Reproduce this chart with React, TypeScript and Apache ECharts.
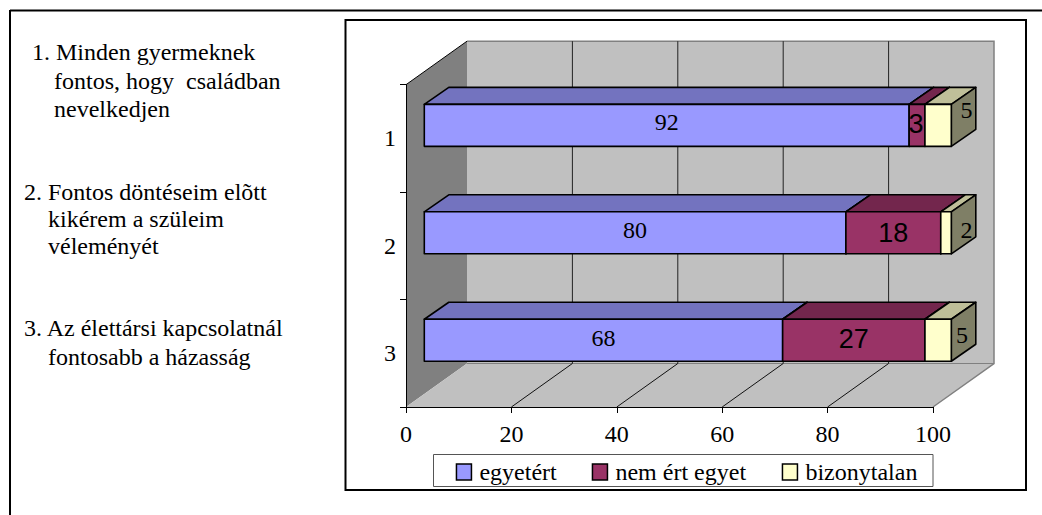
import React, { useEffect, useRef } from "react";
import * as echarts from "echarts";

const categories = ["1", "2", "3"];
const xTicks = [0, 20, 40, 60, 80, 100];
const seriesNames = ["egyetért", "nem ért egyet", "bizonytalan"];
const agree = [92, 80, 68];
const disagree = [3, 18, 27];
const unsure = [5, 2, 5];

const noteLines = [
  "1. Minden gyermeknek",
  "fontos, hogy  családban",
  "nevelkedjen",
  "2. Fontos döntéseim elõtt",
  "kikérem a szüleim",
  "véleményét",
  "3. Az élettársi kapcsolatnál",
  "fontosabb a házasság",
];
const notePos = [
  [32, 52], [54, 81], [54, 109],
  [24, 192], [48, 219], [48, 246],
  [24, 328], [48, 357],
];

const SERIF = "'Liberation Serif', 'Times New Roman', serif";
const SANS = "'Liberation Sans', Arial, sans-serif";

const WALL_DX = 61;
const WALL_DY = -43.5;
const BAR_NEAR = 0.3;
const BAR_DX = 24.5;
const BAR_DY = -17;
const BAR_H = 42;

const faceColors = [
  { front: "#9999FF", top: "#7373BF", side: "#7373BF" },
  { front: "#993366", top: "#73264D", side: "#73264D" },
  { front: "#FFFFCC", top: "#BFBF99", side: "#7F7F66" },
];
const labelStyles = [
  { font: `24px ${SERIF}`, off: [[0, -3.5], [0, -2.5], [0, -2.5]] },
  { font: `27px ${SANS}`, off: [[-1, -1], [0, 0], [0, -1.5]] },
  { font: `24px ${SERIF}`, off: [[3, -6.5], [3, 6], [-1.5, 3]] },
];

const seriesValues = [agree, disagree, unsure];

function rowsFor(idx: number) {
  return categories.map((_, c) => {
    let start = 0;
    for (let i = 0; i < idx; i++) start += seriesValues[i][c];
    return [start, start + seriesValues[idx][c], c, seriesValues[idx][c]];
  });
}

function barRender(idx: number) {
  return (_params: any, api: any) => {
    const c = api.value(2);
    const ox = WALL_DX * BAR_NEAR;
    const oy = WALL_DY * BAR_NEAR;
    const a = api.coord([api.value(0), c]);
    const b = api.coord([api.value(1), c]);
    const x0 = a[0] + ox;
    const x1 = b[0] + ox;
    const yc = a[1] + oy;
    const yT = yc - BAR_H / 2;
    const yB = yc + BAR_H / 2;
    const line = { stroke: "#000", lineWidth: 1.6, lineJoin: "round" };
    const col = faceColors[idx];
    const children: any[] = [
      {
        type: "polygon",
        shape: { points: [[x0, yT], [x0 + BAR_DX, yT + BAR_DY], [x1 + BAR_DX, yT + BAR_DY], [x1, yT]] },
        style: { fill: col.top, ...line },
      },
      {
        type: "polygon",
        shape: { points: [[x1, yT], [x1 + BAR_DX, yT + BAR_DY], [x1 + BAR_DX, yB + BAR_DY], [x1, yB]] },
        style: { fill: col.side, ...line },
      },
      {
        type: "rect",
        shape: { x: x0, y: yT, width: x1 - x0, height: BAR_H },
        style: { fill: col.front, ...line },
      },
    ];
    const ls = labelStyles[idx];
    const off = ls.off[c];
    const onSide = idx === 2;
    const lx = (onSide ? x1 + BAR_DX / 2 : (x0 + x1) / 2) + off[0];
    const ly = (onSide ? yc + BAR_DY / 2 : yc) + off[1];
    children.push({
      type: "text",
      x: lx,
      y: ly,
      style: { text: String(api.value(3)), font: ls.font, fill: "#000", align: "center", verticalAlign: "middle" },
    });
    return { type: "group", children };
  };
}

function wallRender(params: any, api: any) {
  const cs = params.coordSys;
  const L = cs.x;
  const R = cs.x + cs.width;
  const T = cs.y;
  const B = cs.y + cs.height;
  const dx = WALL_DX;
  const dy = WALL_DY;
  const children: any[] = [
    {
      type: "rect",
      shape: { x: L + dx, y: T + dy, width: R - L, height: B - T },
      style: { fill: "#C0C0C0", stroke: "none" },
    },
    {
      type: "polygon",
      shape: { points: [[L, T], [L + dx, T + dy], [L + dx, B + dy], [L, B]] },
      style: { fill: "#808080", stroke: "none" },
    },
    {
      type: "polygon",
      shape: { points: [[L, B], [R, B], [R + dx, B + dy], [L + dx, B + dy]] },
      style: { fill: "#C0C0C0", stroke: "none" },
    },
    {
      type: "polyline",
      shape: { points: [[L + dx, T + dy], [R + dx, T + dy], [R + dx, B + dy], [R, B]] },
      style: { fill: "none", stroke: "#808080", lineWidth: 1.5 },
    },
    {
      type: "line",
      shape: { x1: L, y1: T, x2: L + dx, y2: T + dy },
      style: { stroke: "#000", lineWidth: 1 },
    },
    {
      type: "line",
      shape: { x1: L + dx, y1: B + dy, x2: R + dx, y2: B + dy },
      style: { stroke: "#808080", lineWidth: 1 },
    },
  ];
  xTicks.slice(1, -1).forEach((t) => {
    const x = api.coord([t, 0])[0];
    children.push({
      type: "line",
      shape: { x1: x + dx, y1: T + dy, x2: x + dx, y2: B + dy },
      style: { stroke: "#222", lineWidth: 1 },
    });
    children.push({
      type: "line",
      shape: { x1: x, y1: B, x2: x + dx, y2: B + dy },
      style: { stroke: "#111", lineWidth: 1 },
    });
  });
  return { type: "group", children };
}

function legendFor(idx: number, left: number) {
  return {
    show: true,
    data: [seriesNames[idx]],
    left,
    top: 460,
    padding: 0,
    z: 6,
    selectedMode: false,
    itemWidth: 15,
    itemHeight: 16,
    icon: "rect",
    itemStyle: { borderColor: "#000", borderWidth: 1.5 },
    textStyle: { fontFamily: SERIF, fontSize: 24, color: "#000", padding: [0, 0, 0, 3] },
  };
}

export default function App() {
  const ref = useRef<HTMLDivElement>(null);
  useEffect(() => {
    if (!ref.current) return;
    const chart = echarts.init(ref.current, undefined, { renderer: "svg" });
    chart.setOption({
      animation: false,
      backgroundColor: "#fff",
      grid: { left: 406, top: 84.7, width: 527, height: 322.3, containLabel: false },
      xAxis: {
        type: "value",
        min: 0,
        max: 100,
        interval: 20,
        z: 3,
        splitLine: { show: false },
        axisLine: { show: true, onZero: false, lineStyle: { color: "#000", width: 1 } },
        axisTick: { show: true, length: 6, lineStyle: { color: "#000" } },
        axisLabel: { color: "#000", fontFamily: SERIF, fontSize: 24, margin: 15, showMinLabel: true, showMaxLabel: true },
      },
      yAxis: {
        type: "category",
        data: categories,
        inverse: true,
        z: 3,
        axisLine: { show: true, lineStyle: { color: "#000", width: 1 } },
        axisTick: { show: true, length: 6, lineStyle: { color: "#000" } },
        axisLabel: { color: "#000", fontFamily: SERIF, fontSize: 24, margin: 10, padding: [0, 0, 3, 0] },
        splitLine: { show: false },
      },
      legend: [legendFor(0, 455.7), legendFor(1, 591.7), legendFor(2, 781.7)],
      graphic: [
        { type: "line", z: 0, silent: true, shape: { x1: 10, y1: 10.5, x2: 1042, y2: 10.5 }, style: { stroke: "#000", lineWidth: 2 } },
        { type: "line", z: 0, silent: true, shape: { x1: 10, y1: 10, x2: 10, y2: 515 }, style: { stroke: "#000", lineWidth: 2 } },
        { type: "rect", z: 0, silent: true, shape: { x: 345.5, y: 20, width: 680.5, height: 470 }, style: { fill: "#fff", stroke: "#000", lineWidth: 2 } },
        { type: "rect", z: 5, silent: true, shape: { x: 433.5, y: 454.5, width: 499.5, height: 32 }, style: { fill: "#fff", stroke: "#555", lineWidth: 1 } },
        ...noteLines.map((t, i) => ({
          type: "text",
          z: 1,
          silent: true,
          x: notePos[i][0],
          y: notePos[i][1],
          style: { text: t, font: `24px ${SERIF}`, fill: "#000", align: "left", verticalAlign: "middle" },
        })),
      ],
      series: [
        {
          type: "custom",
          name: "walls",
          z: 1,
          silent: true,
          coordinateSystem: "cartesian2d",
          renderItem: wallRender,
          data: [[0, 0]],
          encode: { x: 0, y: 1 },
        },
        ...seriesNames.map((name, idx) => ({
          type: "custom",
          name,
          z: 4,
          silent: true,
          coordinateSystem: "cartesian2d",
          itemStyle: { color: faceColors[idx].front },
          renderItem: barRender(idx),
          data: rowsFor(idx),
          encode: { x: [0, 1], y: 2 },
        })),
      ],
    });
    return () => chart.dispose();
  }, []);
  return (
    <div
      ref={ref}
      style={{ position: "fixed", left: 0, top: 0, width: 1042, height: 515, background: "#fff" }}
    />
  );
}
